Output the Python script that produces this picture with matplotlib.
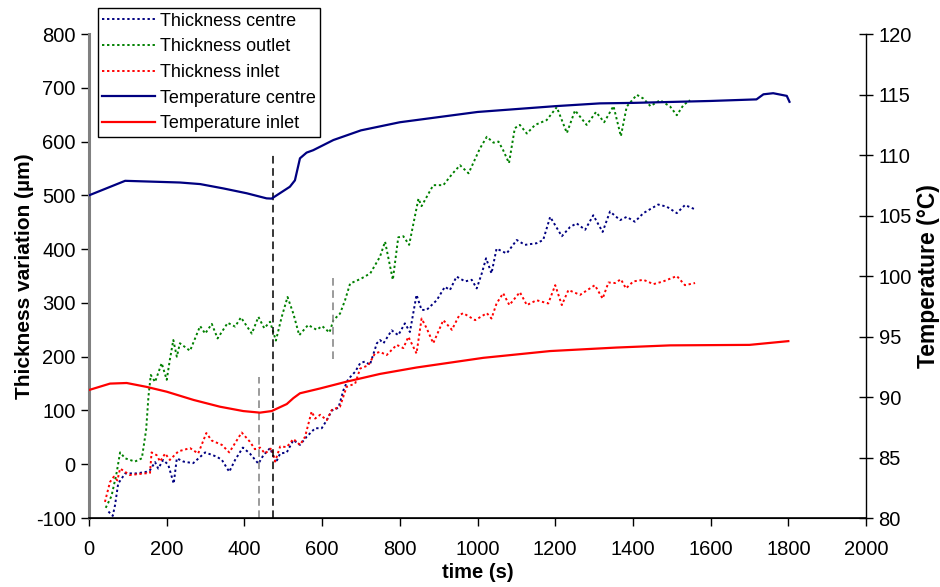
import numpy as np
import matplotlib
matplotlib.use("Agg")
import matplotlib.pyplot as plt

plt.rcParams['font.family'] = ['Liberation Sans', 'DejaVu Sans']
plt.rcParams['axes.unicode_minus'] = False

# thickness centre (um)
t_centre = [50, 61, 67, 75, 93, 123, 148, 157, 170, 178, 191, 204, 218, 226, 243, 268, 299, 329, 342, 361,
            376, 396, 414, 436, 449, 466, 481, 492, 509, 526, 543, 560, 582, 599, 612, 625, 642, 655, 667, 685,
            698, 710, 723, 741, 749, 758, 779, 796, 813, 826, 843, 856, 869, 895, 916, 929, 946, 968, 985, 998,
            1011, 1022, 1036, 1049, 1075, 1101, 1122, 1152, 1169, 1187, 1217, 1238, 1255, 1277, 1298, 1322, 1341,
            1367, 1384, 1405, 1427, 1465, 1487, 1513, 1534, 1560]
thick_centre = [-88, -96, -76, -36, -17, -17, -14, -11, 4, -8, 8, -1, -36, 11, 5, 2, 22, 14, 8, -14,
                8, 31, 20, 1, 17, 30, 3, 20, 22, 45, 36, 51, 67, 67, 82, 100, 105, 138, 158, 172,
                188, 191, 185, 225, 231, 225, 249, 240, 262, 246, 315, 287, 287, 305, 330, 324, 349, 340, 343, 327,
                355, 383, 355, 401, 392, 417, 408, 411, 417, 460, 424, 441, 448, 436, 463, 432, 470,
                454, 460, 451, 467, 483, 479, 467, 482, 474]

# thickness outlet (um)
t_outlet = [43, 58, 71, 80, 93, 118, 136, 147, 153, 159, 170, 187, 200, 208, 217, 226, 234, 260, 286, 299,
            316, 331, 357, 376, 391, 419, 436, 451, 466, 481, 496, 511, 526, 541, 564, 586, 600, 619, 629, 646,
            659, 672, 700, 724, 749, 762, 782, 796, 809, 824, 848, 856, 886, 912, 935, 955, 977, 1006, 1024, 1041,
            1054, 1066, 1081, 1096, 1109, 1127, 1148, 1178, 1204, 1230, 1251, 1281, 1305, 1326, 1350, 1369, 1384,
            1410, 1427, 1445, 1470, 1496, 1513, 1530, 1547]
thick_outlet = [-81, -59, -16, 22, 11, 5, 11, 64, 126, 166, 153, 188, 157, 194, 231, 200, 225, 211, 257, 243,
                261, 234, 263, 256, 273, 243, 274, 253, 265, 230, 274, 311, 280, 240, 259, 250, 257, 245, 268, 280,
                305, 336, 345, 355, 386, 414, 343, 422, 424, 408, 494, 480, 519, 519, 540, 556, 541, 587, 609, 598,
                600, 584, 560, 625, 631, 615, 631, 640, 664, 616, 658, 631, 655, 636, 666, 610, 665,
                687, 680, 666, 677, 665, 649, 668, 677]

# thickness inlet (um)
t_inlet = [41, 54, 64, 73, 80, 105, 131, 157, 161, 174, 183, 196, 208, 230, 260, 281, 302, 316, 342, 361,
           393, 414, 427, 440, 453, 470, 479, 492, 509, 526, 543, 556, 573, 582, 595, 612, 625, 646, 663, 685,
           698, 719, 736, 749, 766, 792, 809, 822, 843, 856, 869, 886, 912, 934, 953, 963, 994, 1024, 1036, 1049,
           1066, 1082, 1109, 1127, 1152, 1182, 1200, 1217, 1234, 1264, 1302, 1322, 1337, 1354, 1369, 1382, 1401,
           1427, 1453, 1478, 1513, 1534, 1560]
thick_inlet = [-70, -33, -23, -30, -8, -20, -18, -16, 22, 17, 5, 20, 8, 24, 30, 20, 58, 44, 36, 22,
               59, 42, 28, 31, 20, 30, 5, 33, 32, 47, 36, 51, 98, 85, 92, 82, 101, 107, 144, 150,
               178, 184, 206, 209, 203, 222, 216, 237, 206, 271, 253, 225, 268, 250, 277, 281, 268, 281, 271, 299,
               318, 296, 320, 296, 305, 299, 333, 296, 324, 315, 333, 308, 338, 337, 344, 327, 340,
               343, 335, 340, 350, 333, 337]

# temperature centre (C)
t_temp_centre = [0, 93, 234, 286, 346, 406, 457, 470, 517, 530, 543, 560, 577, 629, 700, 800, 1000, 1200,
                 1315, 1400, 1600, 1718, 1736, 1761, 1796, 1803]
temp_centre = [106.67, 107.87, 107.73, 107.6, 107.24, 106.84, 106.42, 106.4, 107.38, 107.91, 109.73, 110.2,
               110.4, 111.24, 112.04, 112.71, 113.56, 114.04, 114.27, 114.31, 114.47, 114.6, 115.02, 115.11,
               114.89, 114.4]

# temperature inlet (C)
t_temp_inlet = [0, 54, 97, 148, 200, 269, 337, 397, 440, 470, 509, 526, 543, 595, 663, 749, 843, 1015,
                1187, 1358, 1496, 1700, 1800]
temp_inlet = [90.58, 91.11, 91.16, 90.84, 90.44, 89.76, 89.2, 88.84, 88.71, 88.84, 89.42, 89.91, 90.31,
              90.71, 91.27, 91.91, 92.44, 93.24, 93.8, 94.09, 94.27, 94.31, 94.62]

# vertical dashed markers
mark_t = [438, 473, 627]
mark_lo = [-100, -100, 196]
mark_hi = [163, 580, 350]
mark_col = ['#808080', 'black', '#808080']

fig = plt.figure(figsize=(9.4, 5.87), dpi=100)
ax = fig.add_axes([0.0947, 0.1175, 0.8266, 0.8245])
ax2 = ax.twinx()

dot = (0, (1.2, 1.4))
h1, = ax.plot(t_centre, thick_centre, color='#000080', lw=1.4, ls=dot, label='Thickness centre')
h2, = ax.plot(t_outlet, thick_outlet, color='#008000', lw=1.4, ls=dot, label='Thickness outlet')
h3, = ax.plot(t_inlet, thick_inlet, color='#FF0000', lw=1.4, ls=dot, label='Thickness inlet')

for tt, lo, hi, c in zip(mark_t, mark_lo, mark_hi, mark_col):
    ax.vlines(tt, lo, hi, colors=c, linestyles=(0, (5, 3)), lw=1.1)

h4, = ax2.plot(t_temp_centre, temp_centre, color='#000080', lw=1.6, label='Temperature centre')
h5, = ax2.plot(t_temp_inlet, temp_inlet, color='#FF0000', lw=1.6, label='Temperature inlet')

ax.set_xlim(0, 2000)
ax.set_ylim(-100, 800)
ax2.set_ylim(80, 120)
ax.set_xticks(np.arange(0, 2001, 200))
ax.set_yticks(np.arange(-100, 801, 100))
ax2.set_yticks(np.arange(80, 121, 5))

for a in (ax, ax2):
    a.spines['top'].set_visible(False)
ax.spines['left'].set_color('#808080')
ax.spines['left'].set_linewidth(2.2)
ax2.spines['left'].set_visible(False)
ax.spines['right'].set_visible(False)
ax2.spines['right'].set_color('black')
ax2.spines['right'].set_linewidth(1)
ax.spines['bottom'].set_linewidth(1.2)

ax.tick_params(axis='both', labelsize=14.5, direction='out', length=6, width=1, color='black')
ax.tick_params(axis='x', pad=10)
ax2.tick_params(axis='y', labelsize=14.5, direction='inout', length=10, width=1, pad=4)

ax.set_xlabel('time (s)', fontsize=14.5, fontweight='bold', labelpad=3)
ax.set_ylabel('Thickness variation (µm)', fontsize=15, fontweight='bold', labelpad=1)
ax2.set_ylabel('Temperature (°C)', fontsize=16.5, fontweight='bold', labelpad=4)

leg = ax2.legend(handles=[h1, h2, h3, h4, h5], loc='upper left', bbox_to_anchor=(0.104, 0.986),
                 bbox_transform=fig.transFigure, fontsize=13, fancybox=False, framealpha=1,
                 edgecolor='black', handlelength=2.9, handletextpad=0.3, labelspacing=0.48,
                 borderpad=0.25, borderaxespad=0)
leg.get_frame().set_linewidth(1)

fig.savefig('out.png', dpi=100)
